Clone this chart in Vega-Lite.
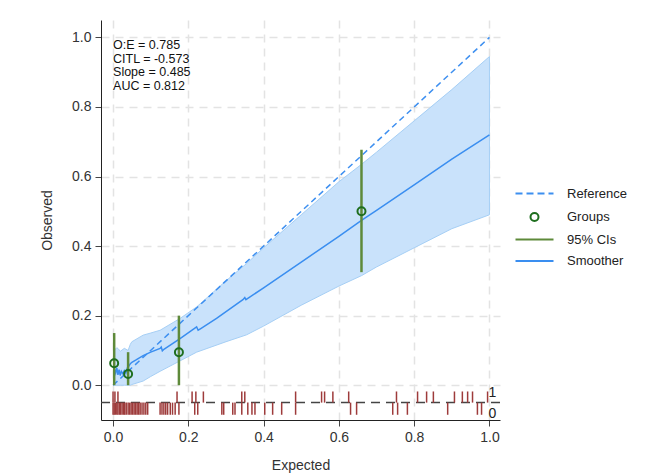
{
  "$schema": "https://vega.github.io/schema/vega-lite/v6.json",
  "autosize": {"type": "none"},
  "padding": {"left": 101, "top": 20, "right": 154, "bottom": 55},
  "width": 399,
  "height": 400,
  "background": "white",
  "config": {
    "view": {"stroke": null},
    "font": "Liberation Sans",
    "axis": {
      "labelFont": "Liberation Sans", "labelFontSize": 14, "labelColor": "#333",
      "titleFont": "Liberation Sans", "titleFontSize": 14, "titleFontWeight": "normal", "titleColor": "#333",
      "domainColor": "#222", "tickColor": "#444", "tickSize": 6,
      "gridColor": "#e3e3e3", "gridDash": [8, 6], "gridWidth": 1.5, "labelPadding": 4
    },
    "legend": {
      "labelFont": "Liberation Sans", "labelFontSize": 13, "labelColor": "#222"
    }
  },
  "datasets": {
    "smooth": [
      {"x": 0.003, "y": 0.048}, {"x": 0.007, "y": 0.035}, {"x": 0.010, "y": 0.050}, {"x": 0.013, "y": 0.030},
      {"x": 0.016, "y": 0.045}, {"x": 0.019, "y": 0.028}, {"x": 0.022, "y": 0.040}, {"x": 0.026, "y": 0.033},
      {"x": 0.030, "y": 0.042}, {"x": 0.034, "y": 0.035}, {"x": 0.038, "y": 0.050}, {"x": 0.042, "y": 0.055},
      {"x": 0.046, "y": 0.062}, {"x": 0.050, "y": 0.066}, {"x": 0.060, "y": 0.072}, {"x": 0.080, "y": 0.085},
      {"x": 0.100, "y": 0.095}, {"x": 0.125, "y": 0.106}, {"x": 0.128, "y": 0.110}, {"x": 0.131, "y": 0.099},
      {"x": 0.136, "y": 0.104}, {"x": 0.178, "y": 0.134}, {"x": 0.222, "y": 0.168}, {"x": 0.226, "y": 0.158},
      {"x": 0.232, "y": 0.162}, {"x": 0.275, "y": 0.192}, {"x": 0.345, "y": 0.246}, {"x": 0.350, "y": 0.252},
      {"x": 0.353, "y": 0.246}, {"x": 0.400, "y": 0.280}, {"x": 0.500, "y": 0.354}, {"x": 0.600, "y": 0.428},
      {"x": 0.660, "y": 0.474}, {"x": 0.700, "y": 0.503}, {"x": 0.800, "y": 0.576}, {"x": 0.900, "y": 0.650},
      {"x": 1.000, "y": 0.720}
    ],
    "band": [
      {"x": 0.003, "lo": 0.0, "hi": 0.100}, {"x": 0.010, "lo": 0.0, "hi": 0.108}, {"x": 0.020, "lo": 0.0, "hi": 0.098},
      {"x": 0.030, "lo": 0.0, "hi": 0.106}, {"x": 0.040, "lo": 0.0, "hi": 0.100}, {"x": 0.046, "lo": 0.0, "hi": 0.118},
      {"x": 0.050, "lo": 0.002, "hi": 0.125}, {"x": 0.080, "lo": 0.012, "hi": 0.144}, {"x": 0.100, "lo": 0.025, "hi": 0.150},
      {"x": 0.125, "lo": 0.040, "hi": 0.158}, {"x": 0.178, "lo": 0.070, "hi": 0.192}, {"x": 0.222, "lo": 0.095, "hi": 0.225},
      {"x": 0.300, "lo": 0.125, "hi": 0.300}, {"x": 0.355, "lo": 0.145, "hi": 0.350}, {"x": 0.400, "lo": 0.170, "hi": 0.395},
      {"x": 0.500, "lo": 0.230, "hi": 0.490}, {"x": 0.600, "lo": 0.285, "hi": 0.585}, {"x": 0.660, "lo": 0.315, "hi": 0.635},
      {"x": 0.700, "lo": 0.340, "hi": 0.670}, {"x": 0.800, "lo": 0.395, "hi": 0.760}, {"x": 0.900, "lo": 0.450, "hi": 0.850},
      {"x": 1.000, "lo": 0.490, "hi": 0.945}
    ],
    "groups": [
      {"x": 0.003, "y": 0.063, "lo": 0.0, "hi": 0.150, "series": "Groups"},
      {"x": 0.040, "y": 0.032, "lo": 0.0, "hi": 0.095, "series": "Groups"},
      {"x": 0.175, "y": 0.095, "lo": 0.0, "hi": 0.200, "series": "Groups"},
      {"x": 0.660, "y": 0.500, "lo": 0.325, "hi": 0.677, "series": "Groups"}
    ],
    "rug": [
      {"x": 0.0, "outcome": 1}, {"x": 0.005, "outcome": 1}, {"x": 0.013, "outcome": 1}, {"x": 0.17, "outcome": 1},
      {"x": 0.21, "outcome": 1}, {"x": 0.22, "outcome": 1}, {"x": 0.24, "outcome": 1}, {"x": 0.342, "outcome": 1},
      {"x": 0.35, "outcome": 1}, {"x": 0.485, "outcome": 1}, {"x": 0.554, "outcome": 1}, {"x": 0.562, "outcome": 1},
      {"x": 0.584, "outcome": 1}, {"x": 0.626, "outcome": 1}, {"x": 0.753, "outcome": 1}, {"x": 0.809, "outcome": 1},
      {"x": 0.833, "outcome": 1}, {"x": 0.851, "outcome": 1}, {"x": 0.907, "outcome": 1}, {"x": 0.928, "outcome": 1},
      {"x": 0.942, "outcome": 1}, {"x": 0.955, "outcome": 1}, {"x": 0.995, "outcome": 1},
      {"x": 0.0, "outcome": 0}, {"x": 0.003, "outcome": 0}, {"x": 0.006, "outcome": 0}, {"x": 0.01, "outcome": 0},
      {"x": 0.013, "outcome": 0}, {"x": 0.017, "outcome": 0}, {"x": 0.02, "outcome": 0}, {"x": 0.024, "outcome": 0},
      {"x": 0.028, "outcome": 0}, {"x": 0.031, "outcome": 0}, {"x": 0.035, "outcome": 0}, {"x": 0.04, "outcome": 0},
      {"x": 0.044, "outcome": 0}, {"x": 0.048, "outcome": 0}, {"x": 0.052, "outcome": 0}, {"x": 0.056, "outcome": 0},
      {"x": 0.06, "outcome": 0}, {"x": 0.064, "outcome": 0}, {"x": 0.068, "outcome": 0}, {"x": 0.072, "outcome": 0},
      {"x": 0.077, "outcome": 0}, {"x": 0.082, "outcome": 0}, {"x": 0.087, "outcome": 0}, {"x": 0.092, "outcome": 0},
      {"x": 0.125, "outcome": 0}, {"x": 0.13, "outcome": 0}, {"x": 0.135, "outcome": 0}, {"x": 0.14, "outcome": 0},
      {"x": 0.145, "outcome": 0}, {"x": 0.152, "outcome": 0}, {"x": 0.158, "outcome": 0}, {"x": 0.165, "outcome": 0},
      {"x": 0.175, "outcome": 0}, {"x": 0.217, "outcome": 0}, {"x": 0.225, "outcome": 0}, {"x": 0.289, "outcome": 0},
      {"x": 0.294, "outcome": 0}, {"x": 0.318, "outcome": 0}, {"x": 0.324, "outcome": 0}, {"x": 0.342, "outcome": 0},
      {"x": 0.358, "outcome": 0}, {"x": 0.369, "outcome": 0}, {"x": 0.377, "outcome": 0}, {"x": 0.403, "outcome": 0},
      {"x": 0.424, "outcome": 0}, {"x": 0.448, "outcome": 0}, {"x": 0.485, "outcome": 0}, {"x": 0.631, "outcome": 0},
      {"x": 0.647, "outcome": 0}, {"x": 0.743, "outcome": 0}, {"x": 0.756, "outcome": 0}, {"x": 0.782, "outcome": 0},
      {"x": 0.889, "outcome": 0}, {"x": 0.968, "outcome": 0}, {"x": 0.979, "outcome": 0}
    ]
  },
  "layer": [
    {
      "data": {"name": "band"},
      "mark": {"type": "area", "color": "#c9e2fb", "stroke": "#a6cff5", "strokeWidth": 1},
      "encoding": {
        "x": {"field": "x", "type": "quantitative", "scale": {"domain": [-0.032, 1.028], "nice": false, "zero": false},
              "axis": {"title": "Expected", "values": [0, 0.2, 0.4, 0.6, 0.8, 1.0], "format": ".1f", "titlePadding": 14}},
        "y": {"field": "lo", "type": "quantitative", "scale": {"domain": [-0.1, 1.05], "nice": false, "zero": false},
              "axis": {"title": "Observed", "values": [0, 0.2, 0.4, 0.6, 0.8, 1.0], "format": ".1f", "titlePadding": 17}},
        "y2": {"field": "hi"}
      }
    },
    {
      "data": {"values": [{"x": 0, "y": 0}, {"x": 1, "y": 1}]},
      "mark": {"type": "line", "color": "#3d8ff0", "strokeWidth": 1.5, "strokeDash": [6, 4]},
      "encoding": {"x": {"field": "x", "type": "quantitative"}, "y": {"field": "y", "type": "quantitative"}}
    },
    {
      "data": {"name": "smooth"},
      "mark": {"type": "line", "color": "#3a8ef0", "strokeWidth": 1.5},
      "encoding": {"x": {"field": "x", "type": "quantitative"}, "y": {"field": "y", "type": "quantitative"}}
    },
    {
      "data": {"name": "groups"},
      "mark": {"type": "rule", "color": "#5e8a3a", "strokeWidth": 2.5},
      "encoding": {"x": {"field": "x", "type": "quantitative"}, "y": {"field": "lo", "type": "quantitative"}, "y2": {"field": "hi"}}
    },
    {
      "data": {"name": "groups"},
      "mark": {"type": "point", "filled": false, "strokeWidth": 2, "size": 100, "opacity": 1},
      "encoding": {
        "x": {"field": "x", "type": "quantitative"},
        "y": {"field": "y", "type": "quantitative"},
        "color": {"field": "series", "type": "nominal",
          "scale": {"domain": ["Reference", "Groups", "95% CIs", "Smoother"], "range": ["#3d8ff0", "#1e6e1e", "#5e8a3a", "#3a8ef0"]},
          "legend": {"title": null, "orient": "none", "legendX": 427, "legendY": 167, "symbolSize": 100, "symbolStrokeWidth": 2,
                     "labelOffset": 26, "rowPadding": 7.5, "symbolFillColor": "transparent"}},
        "shape": {"field": "series", "type": "nominal",
          "scale": {"domain": ["Reference", "Groups", "95% CIs", "Smoother"],
                    "range": ["M-3.8,0H-2.4M-1.6,0H-0.2M0.6,0H2.0M2.8,0H3.8", "M0.8,0A0.8,0.8,0,1,1,-0.8,0A0.8,0.8,0,1,1,0.8,0Z", "M-3.8,0H3.8", "M-3.8,0H3.8"]},
          "legend": {"title": null, "orient": "none", "legendX": 427, "legendY": 167, "symbolSize": 100, "symbolStrokeWidth": 2,
                     "labelOffset": 26, "rowPadding": 7.5, "symbolFillColor": "transparent"}}
      }
    },
    {
      "data": {"values": [{}]},
      "mark": {"type": "rule", "color": "#444", "strokeWidth": 1.5, "strokeDash": [9, 6]},
      "encoding": {"y": {"datum": -0.05}}
    },
    {
      "data": {"name": "rug"},
      "transform": [{"filter": "datum.outcome == 1"}],
      "mark": {"type": "rule", "color": "#9e3b3b", "strokeWidth": 1.5},
      "encoding": {"x": {"field": "x", "type": "quantitative"}, "y": {"datum": -0.05}, "y2": {"datum": -0.018}}
    },
    {
      "data": {"name": "rug"},
      "transform": [{"filter": "datum.outcome == 0"}],
      "mark": {"type": "rule", "color": "#9e3b3b", "strokeWidth": 1.5},
      "encoding": {"x": {"field": "x", "type": "quantitative"}, "y": {"datum": -0.05}, "y2": {"datum": -0.085}}
    },
    {
      "data": {"values": [{"label": "1", "x": 1.008, "y": -0.022}, {"label": "0", "x": 1.008, "y": -0.082}]},
      "mark": {"type": "text", "fontSize": 14, "color": "#222", "align": "center", "baseline": "middle"},
      "encoding": {"x": {"field": "x", "type": "quantitative"}, "y": {"field": "y", "type": "quantitative"}, "text": {"field": "label"}}
    },
    {
      "data": {"values": [{}]},
      "mark": {"type": "text", "text": ["O:E = 0.785", "CITL = -0.573", "Slope = 0.485", "AUC = 0.812"],
               "fontSize": 12.5, "lineHeight": 13.5, "align": "left", "baseline": "alphabetic", "color": "#111"},
      "encoding": {"x": {"datum": 0}, "y": {"datum": 0.966}}
    }
  ]
}
